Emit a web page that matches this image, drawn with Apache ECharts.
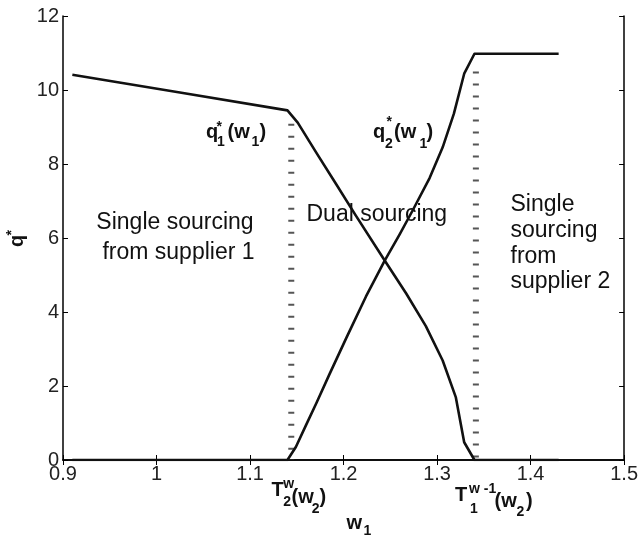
<!DOCTYPE html>
<html>
<head>
<meta charset="utf-8">
<script src="https://cdn.jsdelivr.net/npm/echarts@6/dist/echarts.min.js"></script>
<style>
  html, body { margin: 0; padding: 0; background: #fff; }
  #chart { width: 641px; height: 536px; }
</style>
</head>
<body>
<div id="chart"></div>
<script>
// Order quantities q* as a function of the unit price w1
const xTicks = [0.9, 1.0, 1.1, 1.2, 1.3, 1.4, 1.5];
const yTicks = [0, 2, 4, 6, 8, 10, 12];

// q1*(w1): quantity ordered from supplier 1
const q1W = [0.910, 1.025, 1.140, 1.151, 1.171, 1.192, 1.213, 1.244, 1.267, 1.288, 1.306, 1.320, 1.329, 1.340, 1.430];
const q1Val = [10.41, 9.93, 9.45, 9.12, 8.30, 7.46, 6.61, 5.39, 4.50, 3.62, 2.69, 1.70, 0.48, 0.00, 0.00];

// q2*(w1): quantity ordered from supplier 2
const q2W = [0.910, 1.140, 1.149, 1.160, 1.171, 1.185, 1.203, 1.224, 1.244, 1.260, 1.274, 1.292, 1.306, 1.318, 1.329, 1.340, 1.430];
const q2Val = [0.00, 0.00, 0.35, 0.95, 1.54, 2.32, 3.30, 4.42, 5.39, 6.10, 6.75, 7.62, 8.45, 9.36, 10.44, 10.98, 10.98];

// Thresholds T2^w(w2) and T1^{w-1}(w2) separating the sourcing regimes
const thresholdW = [1.1441, 1.3415];
const thresholdTop = [9.09, 10.5];

const pairs = (xs, ys) => xs.map((x, i) => [x, ys[i]]);

const FONT = '"Liberation Sans", Arial, Helvetica, sans-serif';

// text piece positioned by its baseline
function piece(t, x, baseline, size, bold) {
  return {
    type: 'text',
    x: x,
    y: baseline - 0.31 * size,
    silent: true,
    style: {
      text: t,
      x: 0, y: 0,
      fill: '#111',
      font: (bold ? 'bold ' : '') + size + 'px ' + FONT,
      align: 'left',
      verticalAlign: 'middle'
    }
  };
}
function rotPiece(t, baseX, startY, size, bold) {
  return {
    type: 'text',
    x: baseX - 0.31 * size,
    y: startY,
    rotation: Math.PI / 2,
    silent: true,
    style: {
      text: t, x: 0, y: 0, fill: '#111',
      font: (bold ? 'bold ' : '') + size + 'px ' + FONT,
      align: 'left', verticalAlign: 'middle'
    }
  };
}
function centered(t, cx, baseline, size) {
  const el = piece(t, cx, baseline, size, false);
  el.style.align = 'center';
  return el;
}

const graphics = [
  // q1*(w1)
  piece('q', 206, 139, 20, true),
  piece('*', 216.5, 131, 14, true),
  piece('1', 217, 146.5, 14, true),
  piece('(w', 227.5, 139, 20, true),
  piece('1', 251.5, 146.5, 14, true),
  piece(')', 259.5, 139, 20, true),
  // q2*(w1)
  piece('q', 373, 139, 20, true),
  piece('*', 386.5, 126.5, 14, true),
  piece('2', 385, 148.3, 14, true),
  piece('(w', 394, 139, 20, true),
  piece('1', 419.5, 148, 14, true),
  piece(')', 426.5, 139, 20, true),
  // T2^w(w2)
  piece('T', 271.5, 496.7, 20, true),
  piece('w', 283.3, 488.5, 14, true),
  piece('2', 283.3, 506.7, 14, true),
  piece('(w', 291.5, 503.5, 20, true),
  piece('2', 311.7, 513.3, 14, true),
  piece(')', 319.5, 503.5, 20, true),
  // T1^{w-1}(w2)
  piece('T', 455, 501.7, 20, true),
  piece('w -1', 469, 493.3, 14, true),
  piece('1', 470, 513.3, 14, true),
  piece('(w', 494.5, 508, 20, true),
  piece('2', 516.5, 516.7, 14, true),
  piece(')', 526, 508, 20, true),
  // axis titles
  piece('w', 346.5, 529.5, 20, true),
  piece('1', 363.5, 535, 14, true),
  rotPiece('q', 24, 247, 20, true),
  rotPiece('*', 16, 235.5, 14, true),
  // regime labels
  centered('Single sourcing', 175, 230, 23),
  centered('from supplier 1', 178.5, 259.5, 23),
  piece('Dual sourcing', 306.5, 221.7, 23, false),
  piece('Single', 510.5, 211.7, 23, false),
  piece('sourcing', 510.5, 237.5, 23, false),
  piece('from', 510.5, 263.3, 23, false),
  piece('supplier 2', 510.5, 288.3, 23, false)
];

const axisLine = { show: true, lineStyle: { color: '#000', width: 1.5 } };
const axisTick = { show: true, inside: true, length: 5, lineStyle: { color: '#000', width: 1 } };
const labelStyle = { color: '#222', fontSize: 20, fontFamily: FONT };

const option = {
  animation: false,
  backgroundColor: '#fff',
  grid: { left: 63, top: 16, width: 562, height: 444, containLabel: false },
  xAxis: [
    {
      type: 'value', min: xTicks[0], max: xTicks[xTicks.length - 1], interval: 0.1,
      position: 'bottom', axisLine: axisLine, axisTick: axisTick,
      splitLine: { show: false },
      axisLabel: Object.assign({ margin: 4, formatter: v => String(+v.toFixed(1)) }, labelStyle)
    },
    {
      type: 'value', min: xTicks[0], max: xTicks[xTicks.length - 1], interval: 0.1,
      position: 'top', axisLine: axisLine, axisTick: axisTick,
      splitLine: { show: false }, axisLabel: { show: false }
    }
  ],
  yAxis: [
    {
      type: 'value', min: yTicks[0], max: yTicks[yTicks.length - 1], interval: 2,
      position: 'left', axisLine: axisLine, axisTick: axisTick,
      splitLine: { show: false },
      axisLabel: Object.assign({ margin: 4 }, labelStyle)
    },
    {
      type: 'value', min: yTicks[0], max: yTicks[yTicks.length - 1], interval: 2,
      position: 'right', axisLine: axisLine, axisTick: axisTick,
      splitLine: { show: false }, axisLabel: { show: false }
    }
  ],
  series: [
    ...thresholdW.map((w, i) => ({
      type: 'line', xAxisIndex: 0, yAxisIndex: 0, z: 1,
      data: [[w, thresholdTop[i]], [w, 0]],
      symbol: 'none', silent: true,
      lineStyle: { color: '#555', width: 6, type: [2, 10], cap: 'butt' }
    })),
    {
      type: 'line', name: 'q1', data: pairs(q1W, q1Val), z: 3,
      symbol: 'none', silent: true,
      lineStyle: { color: '#111', width: 2.6, join: 'round' }
    },
    {
      type: 'line', name: 'q2', data: pairs(q2W, q2Val), z: 3,
      symbol: 'none', silent: true,
      lineStyle: { color: '#111', width: 2.6, join: 'round' }
    }
  ],
  graphic: graphics
};

const chart = echarts.init(document.getElementById('chart'), null, { renderer: 'canvas' });
chart.setOption(option);
</script>
</body>
</html>
